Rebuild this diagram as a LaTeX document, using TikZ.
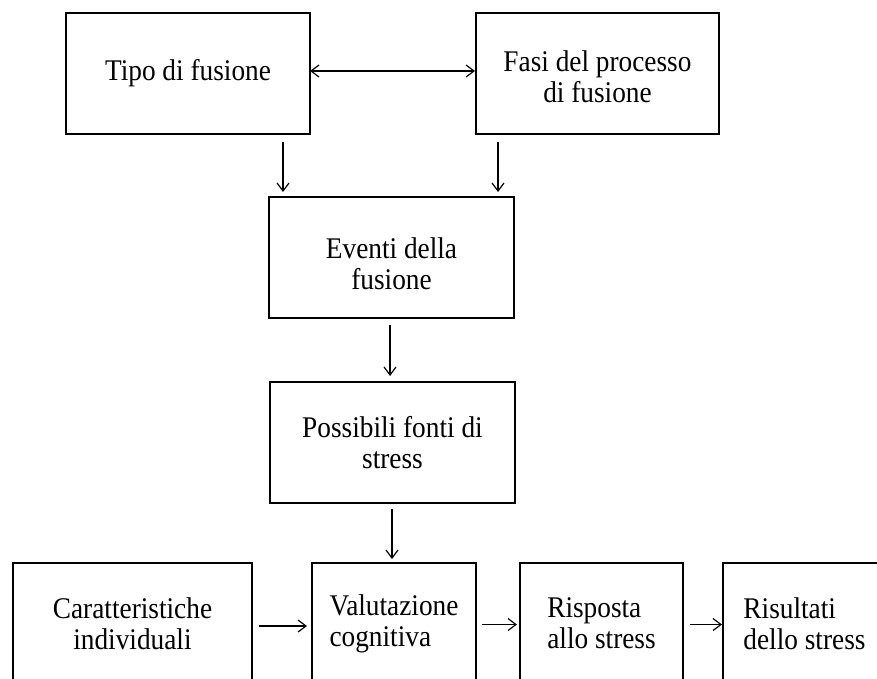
\documentclass[tikz,border=0pt]{standalone}
\usepackage{fontspec}
\setmainfont[FakeStretch=0.91]{Liberation Serif}
\usetikzlibrary{calc,arrows.meta}

\tikzset{every picture/.style={line width=0.75pt}}
\tikzset{
  box/.style={draw, line width=1.6pt, inner sep=0pt, outer sep=0pt, minimum height=90.75pt,
    font=\fontsize{22.5pt}{23.5pt}\selectfont},
  arr/.style={line width=0.9pt, -{Straight Barb[length=6pt,width=9pt]}},
}

\begin{document}
\begin{tikzpicture}[x=0.75pt,y=0.75pt,yscale=-1,xscale=1]
\useasboundingbox (0,0) rectangle (877,678);
\clip (0,0) rectangle (877,678);

%Shape: Rectangle
\node [box, minimum width=183pt, align=center] (tipo) at (188,73.5) {Tipo di fusione};
%Shape: Rectangle
\node [box, minimum width=182.25pt, align=center] (fasi) at (597.5,73.5) {\raisebox{-5.25pt}[\height][\depth]{\begin{tabular}{@{}c@{}}Fasi del processo\\di fusione\end{tabular}}};
%Shape: Rectangle
\node [box, minimum width=183.75pt, align=center] (eventi) at (391.5,257.5) {\raisebox{-7.5pt}[\height][\depth]{\begin{tabular}{@{}c@{}}Eventi della\\fusione\end{tabular}}};
%Shape: Rectangle
\node [box, minimum width=183.75pt, align=center] (possibili) at (392.5,442.5) {Possibili fonti di\\stress};
%Shape: Rectangle
\node [box, minimum width=179.25pt, align=center] (caratt) at (132.5,623.5) {Caratteristiche\\individuali};
%Shape: Rectangle
\node [box, minimum width=123pt, align=left] (valut) at (394,623.5) {Valutazione\\cognitiva};
%Shape: Rectangle
\node [box, minimum width=122.25pt, align=left] (risposta) at (601.5,623.5) {Risposta\\allo stress};
%Shape: Rectangle
\node [box, minimum width=122.25pt, align=left] (risultati) at (804.5,623.5) {Risultati\\dello stress};

%Straight Lines
\draw [arr, {Straight Barb[length=6pt,width=9pt]}-{Straight Barb[length=6pt,width=9pt]}] ($(tipo.east)+(0,-2.5)$) -- ($(fasi.west)+(-1,-2.5)$);
%Straight Lines
\draw [arr] ($(tipo.south east)+(-27,8)$) -- ($(eventi.north west)+(14,-5)$);
%Straight Lines
\draw [arr] ($(fasi.south west)+(22,8)$) -- ($(eventi.north east)+(-16,-5)$);
%Straight Lines
\draw [arr] ($(eventi.south)+(-1.5,7)$) -- ($(possibili.north)+(-2.5,-6)$);
%Straight Lines
\draw [arr] ($(possibili.south)+(-0.5,6)$) -- ($(valut.north)+(-2,-4)$);
%Straight Lines
\draw [arr] ($(caratt.east)+(7,2.5)$) -- ($(valut.west)+(-5,2.5)$);
%Straight Lines
\draw [arr] ($(valut.east)+(6,1)$) -- ($(risposta.west)+(-3,1)$);
%Straight Lines
\draw [arr] ($(risposta.east)+(7,1)$) -- ($(risultati.west)+(-1,1)$);

\end{tikzpicture}
\end{document}
